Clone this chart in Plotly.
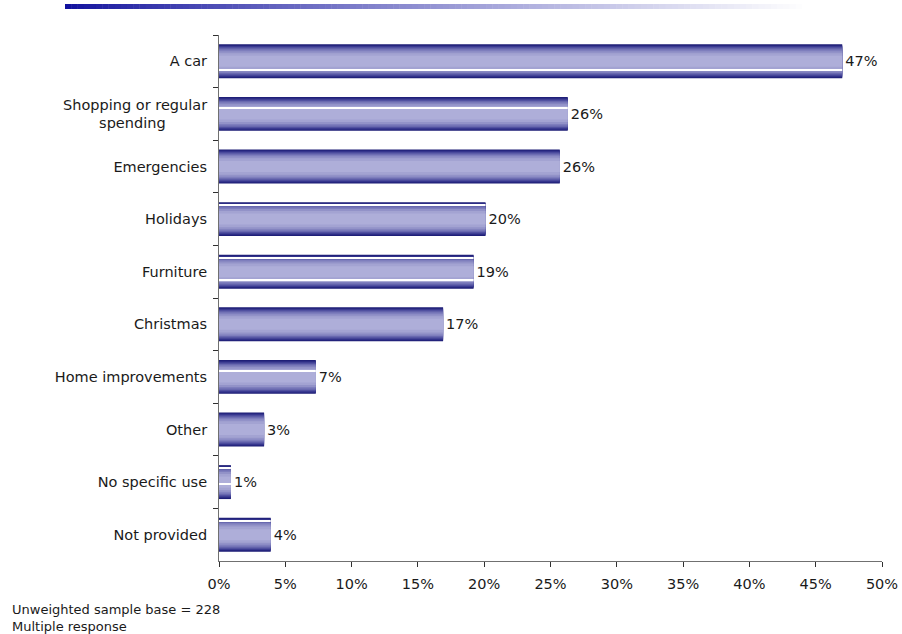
import plotly.graph_objects as go

# Survey results: what the money was used for (multiple response)
categories = [
    "A car",
    "Shopping or regular<br>spending" + "\u00a0" * 9,
    "Emergencies",
    "Holidays",
    "Furniture",
    "Christmas",
    "Home improvements",
    "Other",
    "No specific use",
    "Not provided",
]
shares = [47.0, 26.3, 25.7, 20.1, 19.2, 16.9, 7.3, 3.4, 0.9, 3.9]
x_ticks = [0, 5, 10, 15, 20, 25, 30, 35, 40, 45, 50]
x_tick_labels = [f"{t}%" for t in x_ticks]
footnotes = ["Unweighted sample base = 228", "Multiple response"]

FONT = "DejaVu Sans, Verdana, sans-serif"
W, H = 902, 634
L, R, T, B = 219, 20, 35, 73
BAR_W = 0.645

# Layered bars of shrinking thickness give the shaded tube look
layers = [
    (0.645, "#1c1c74"),
    (0.615, "#282882"),
    (0.580, "#3a3a91"),
    (0.540, "#5050a0"),
    (0.495, "#6868af"),
    (0.445, "#7e7ebd"),
    (0.385, "#9292c8"),
    (0.310, "#a3a3d2"),
    (0.210, "#aeaed9"),
]

fig = go.Figure()
for i, (w, col) in enumerate(layers):
    fig.add_trace(go.Bar(
        x=shares, y=categories, orientation="h",
        width=w, marker=dict(color=col, line=dict(width=0)),
        text=[f"{v:.0f}%" for v in shares] if i == 0 else None,
        textposition="outside" if i == 0 else "none",
        textfont=dict(family=FONT, size=14.5, color="#1a1a1a"),
        cliponaxis=False, hoverinfo="skip", showlegend=False,
    ))

# thin white highlight streaks across some of the bars (fraction from bar top)
streaks = [
    [0.76, 0.33, None, 0.09, 0.09, None, 0.33, None, 0.09, 0.09],
    [None, None, None, None, 0.76, None, None, None, 0.55, None],
]
LINE_W = 0.028
for fr in streaks:
    xs = [v if f is not None else None for v, f in zip(shares, fr)]
    offs = [(-BAR_W / 2 + f * BAR_W - LINE_W / 2) if f is not None else 0 for f in fr]
    fig.add_trace(go.Bar(
        x=xs, y=categories, orientation="h", width=LINE_W, offset=offs,
        marker=dict(color="#ffffff", line=dict(width=0)),
        hoverinfo="skip", showlegend=False,
    ))

pw, ph = W - L - R, H - T - B


def px_x(px):
    return (px - L) / pw


def px_y(py):
    return (H - B - py) / ph


# header band fading from blue to white
shapes = []
n = 120
x0, x1, y0, y1 = 65, 808, 4, 9
for k in range(n):
    t = k / (n - 1)
    g = t ** 0.85
    r = int(18 + (255 - 18) * g)
    gg = int(18 + (255 - 18) * g)
    b = int(158 + (255 - 158) * g)
    xa = x0 + (x1 - x0) * k / n
    xb = x0 + (x1 - x0) * (k + 1) / n + 0.5
    shapes.append(dict(
        type="rect", xref="paper", yref="paper",
        x0=px_x(xa), x1=px_x(xb), y0=px_y(y1), y1=px_y(y0),
        fillcolor=f"rgb({r},{gg},{b})", line=dict(width=0), layer="above",
    ))

annotations = []
for j, txt in enumerate(footnotes):
    annotations.append(dict(
        text=txt, xref="paper", yref="paper",
        x=px_x(10), y=px_y(609 + 17 * j), xanchor="left", yanchor="middle",
        showarrow=False, font=dict(family=FONT, size=13, color="#1a1a1a"),
    ))

fig.update_layout(
    width=W, height=H, autosize=False,
    margin=dict(l=L, r=R, t=T, b=B, pad=0, autoexpand=False),
    barmode="overlay",
    plot_bgcolor="white", paper_bgcolor="white",
    font=dict(family=FONT, size=14.5, color="#1a1a1a"),
    shapes=shapes, annotations=annotations,
    xaxis=dict(
        range=[0, 50], tickvals=x_ticks, ticktext=x_tick_labels,
        showgrid=False, zeroline=False, showline=True, linecolor="#707070",
        linewidth=1, ticks="outside", ticklen=5, tickcolor="#303030",
        automargin=False, ticklabelstandoff=5,
        tickfont=dict(family=FONT, size=14.5, color="#1a1a1a"),
    ),
    yaxis=dict(
        categoryorder="array", categoryarray=categories, autorange="reversed",
        showgrid=False, zeroline=False, showline=True, linecolor="#707070",
        linewidth=1, ticks="outside", ticklen=5, tickcolor="#303030",
        tickson="boundaries", ticklabelstandoff=8, automargin=False,
        tickfont=dict(family=FONT, size=14.5, color="#1a1a1a"),
    ),
)

fig.write_html("out.html", config={"responsive": False})
